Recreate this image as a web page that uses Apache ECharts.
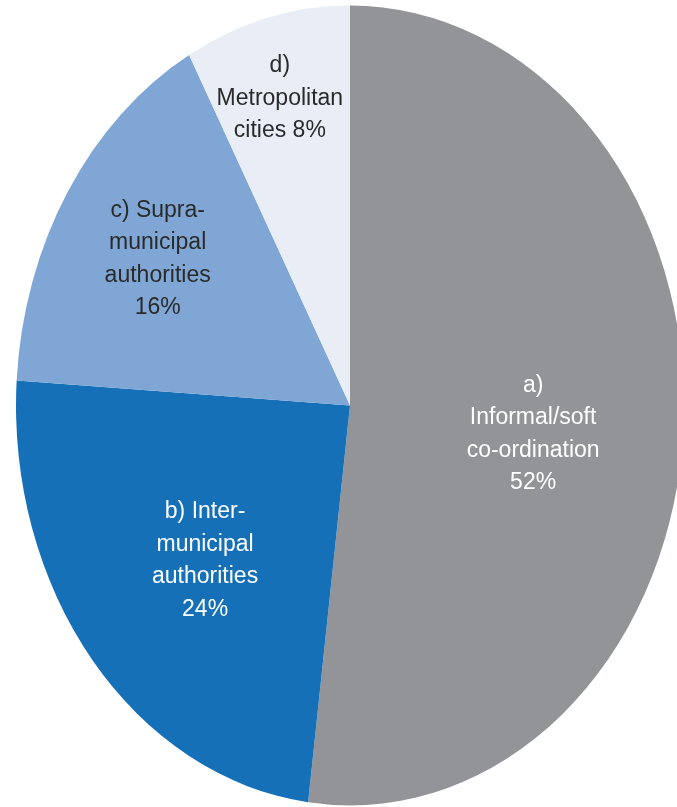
<!DOCTYPE html>
<html>
<head>
<meta charset="utf-8">
<style>
  html, body { margin: 0; padding: 0; background: #ffffff; }
  #chart { width: 677px; height: 807px; }
</style>
<script src="https://cdn.jsdelivr.net/npm/echarts@6/dist/echarts.min.js"></script>
</head>
<body>
<div id="chart"></div>
<script>
// Shares of municipal co-ordination arrangements (percent)
const categories = [
  'a)\nInformal/soft\nco-ordination\n',
  'b) Inter-\nmunicipal\nauthorities\n',
  'c) Supra-\nmunicipal\nauthorities\n',
  'd)\nMetropolitan\ncities '
];
const shares = [52, 24, 16, 8];

// Appearance of each slice
const sliceColors = ['#939498', '#1570b7', '#7fa6d4', '#e8edf6'];
const labelColors = ['#ffffff', '#ffffff', '#2a2a2a', '#2a2a2a'];

// Elliptical pie layout (pixels) and label placement inside each slice
const pieLayout = { cx: 350, cy: 405.5, rx: 334, ry: 400 };
const labelRadius = [0.553, 0.582, 0.682, 0.796];   // fraction of the radius
const labelTurn = [3.9, -2.2, 0, -0.9];             // degrees added to the slice mid-angle

const total = shares.reduce((s, v) => s + v, 0);
let acc = 0;
const seriesData = shares.map((v, i) => {
  const start = acc;
  acc += v;
  return { name: categories[i], value: [start, acc, v] };
});

const chart = echarts.init(document.getElementById('chart'), null, { renderer: 'canvas' });

chart.setOption({
  backgroundColor: '#ffffff',
  animation: false,
  series: [{
    type: 'custom',
    coordinateSystem: 'none',
    silent: true,
    data: seriesData,
    renderItem: function (params, api) {
      const i = params.dataIndex;
      const f0 = api.value(0) / total;
      const f1 = api.value(1) / total;
      const v = api.value(2);
      const L = pieLayout;
      const a0 = -Math.PI / 2 + 2 * Math.PI * f0;
      const a1 = -Math.PI / 2 + 2 * Math.PI * f1;

      const mid = 2 * Math.PI * (f0 + f1) / 2 + labelTurn[i] * Math.PI / 180;
      const lr = labelRadius[i];
      const lx = L.cx + lr * L.rx * Math.sin(mid);
      const ly = L.cy - lr * L.ry * Math.cos(mid);

      return {
        type: 'group',
        children: [
          {
            type: 'sector',
            x: L.cx,
            y: L.cy,
            scaleY: L.ry / L.rx,
            shape: { cx: 0, cy: 0, r0: 0, r: L.rx, startAngle: a0, endAngle: a1, clockwise: true },
            style: { fill: sliceColors[i], stroke: null }
          },
          {
            type: 'text',
            x: lx,
            y: ly,
            style: {
              text: categories[i] + v + '%',
              fill: labelColors[i],
              fontFamily: '"Liberation Sans", Arial, sans-serif',
              fontSize: 23,
              lineHeight: 32.5,
              align: 'center',
              verticalAlign: 'middle'
            }
          }
        ]
      };
    }
  }]
});
</script>
</body>
</html>
